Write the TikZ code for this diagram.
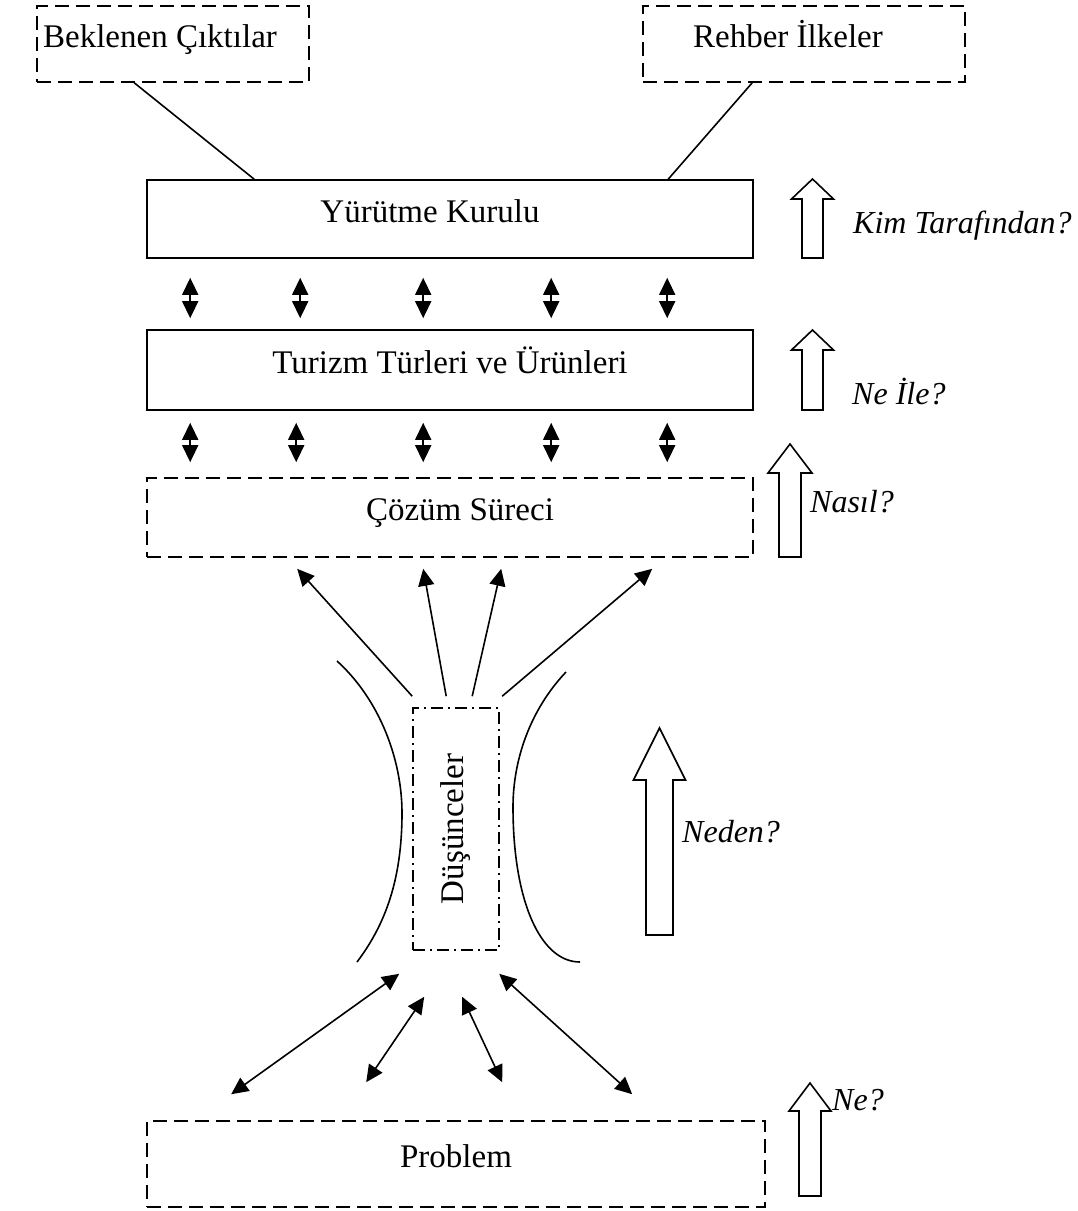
\documentclass[tikz,border=0pt]{standalone}
\usepackage{fontspec}
\setmainfont{Liberation Serif}
\usepackage{tikz}
\usetikzlibrary{arrows.meta,positioning,calc}

\newcommand{\blockup}[6]{% x, tip, head base, bottom, half head, half shaft
  \draw[line width=1.6pt, fill=white] (#1,#2) -- (#1+#5,#3) -- (#1+#6,#3) -- (#1+#6,#4)
    -- (#1-#6,#4) -- (#1-#6,#3) -- (#1-#5,#3) -- cycle;}

\begin{document}
\begin{tikzpicture}[x=1pt, y=-1pt, font=\fontsize{33}{39}\selectfont]
  % Define styles
  \tikzstyle{box} = [rectangle, draw, line width=1.6pt, inner sep=0pt, text centered, text height=18pt, text depth=12pt]
  \tikzstyle{dbox} = [box, dash pattern=on 14pt off 7pt]
  \tikzstyle{ddbox} = [box, dash pattern=on 12pt off 5pt on 2pt off 5pt, text height=, text depth=]
  \tikzstyle{arrow} = [line width=1.6pt, -{Triangle[length=17pt,width=16pt]}]
  \tikzstyle{dblarrow} = [line width=1.6pt, {Triangle[length=17pt,width=16pt]}-{Triangle[length=17pt,width=16pt]}]
  \tikzstyle{question} = [font=\fontsize{32}{38}\selectfont\itshape, anchor=west, inner sep=0pt]

  \useasboundingbox (0,0) rectangle (1078,1211);

  % Boxes
  \node [dbox, minimum width=272pt, minimum height=76pt] (outputs) at (173,44) {\hspace*{-26pt}Beklenen Çıktılar};
  \node [dbox, minimum width=322pt, minimum height=76pt] (guides) at (804,44) {\hspace*{-32pt}Rehber İlkeler};
  \node [box, minimum width=606pt, minimum height=78pt] (board) at (450,219) {\hspace*{-40pt}Yürütme Kurulu};
  \node [box, minimum width=606pt, minimum height=80pt] (types) at (450,370) {Turizm Türleri ve Ürünleri};
  \node [dbox, minimum width=606pt, minimum height=79pt] (solution) at (450,517.5) {\hspace*{20pt}Çözüm Süreci};
  \node [ddbox, minimum width=86pt, minimum height=242pt] (ideas) at (456,829) {\rotatebox{90}{Düşünceler}};
  \node [dbox, minimum width=618pt, minimum height=86pt] (problem) at (456,1164) {Problem};

  % Links to the board
  \draw [line width=1.6pt] ($(outputs.south west)+(98,0)$) -- ($(board.north west)+(108,0)$);
  \draw [line width=1.6pt] ($(guides.south west)+(110,0)$) -- ($(board.north west)+(522,0)$);

  % Double arrows between the boxes
  \foreach \x in {44,154,277,405,521}
    \draw [dblarrow] ($(board.south west)+(\x,19)$) -- ($(types.north west)+(\x,-11)$);
  \foreach \x in {44,150,277,405,521}
    \draw [dblarrow] ($(types.south west)+(\x,12)$) -- ($(solution.north west)+(\x,-15)$);

  % Ideas towards the solution
  \foreach \a/\b in {0/151,34/277,60/355,90/506}
    \draw [arrow] ($(ideas.north west)+(\a,-11)$) -- ($(solution.south west)+(\b,11)$);

  % Brackets round the ideas
  \draw [line width=1.6pt] (337,661) .. controls (380,700) and (402,760) .. (402,813)
    .. controls (402,880) and (385,925) .. (357,962);
  \draw [line width=1.6pt] (566,672) .. controls (530,710) and (513,760) .. (513,807)
    .. controls (513,900) and (540,962) .. (580,962);

  % Problem and ideas
  \foreach \a/\ay/\b/\by in {-13/23/85/-26,12/46/220/-38,50/46/356/-38,87/23/486/-26}
    \draw [dblarrow] ($(ideas.south west)+(\a,\ay)$) -- ($(problem.north west)+(\b,\by)$);

  % Questions
  \blockup{812.5}{179}{199}{258}{21}{10.5}
  \blockup{812.5}{330}{350}{410}{21}{10.5}
  \blockup{790}{444}{473}{557}{22}{11}
  \blockup{659.5}{728}{780}{935}{26}{13.5}
  \blockup{810}{1083}{1111}{1196}{21}{11}
  \node [question] (who) at (853,226) {Kim Tarafından?};
  \node [question] (with) at (852,392) {Ne İle?};
  \node [question] (how) at (810,502) {Nasıl?};
  \node [question] (why) at (682,832) {Neden?};
  \node [question] (what) at (832,1100) {Ne?};

\end{tikzpicture}
\end{document}
